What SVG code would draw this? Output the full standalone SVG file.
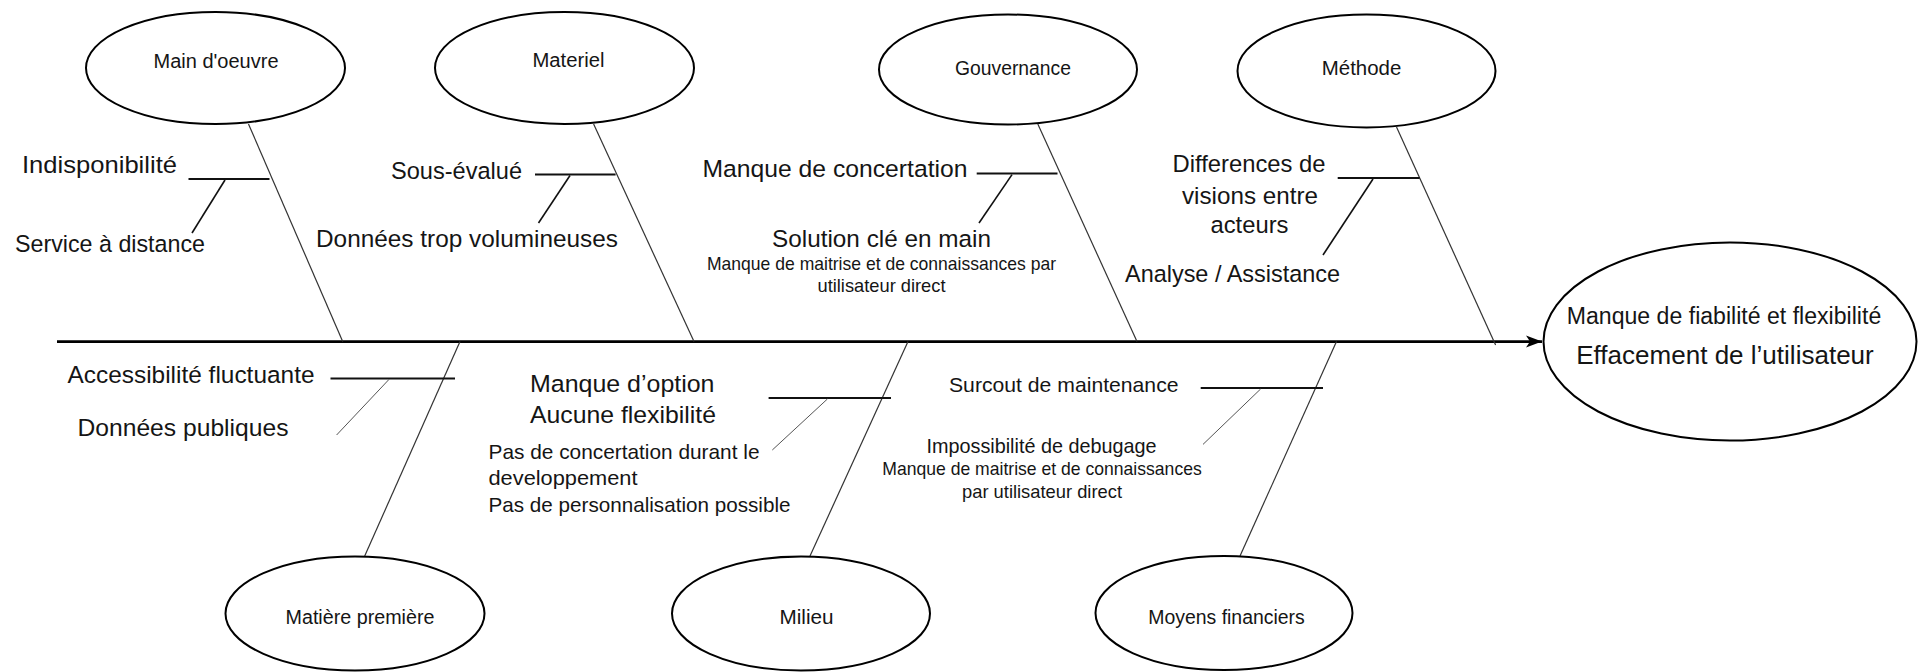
<svg xmlns="http://www.w3.org/2000/svg" width="1919" height="672" viewBox="0 0 1919 672">
<defs>
<style>
text{font-family:"Liberation Sans",Arial,sans-serif;fill:#151515}
.nd ellipse{fill:#fff;stroke:#000;stroke-width:2}
.nl{font-size:19.5px;text-anchor:middle}
.big{font-size:24.5px}
.mid{font-size:20.8px}
.sm{font-size:17.8px}
.c{text-anchor:middle}
.spine{stroke:#000;stroke-width:2.6;fill:none}
.bone{stroke:#333;stroke-width:1.2;fill:none}
.sub{stroke:#111;stroke-width:2;fill:none}
.diag{stroke:#111;stroke-width:1.6;fill:none}
.diag2{stroke:#555;stroke-width:1;fill:none}
</style>
<marker id="arr" markerUnits="userSpaceOnUse" markerWidth="18" markerHeight="14" refX="16" refY="7" orient="auto">
<path d="M0,1 L16,7 L0,13 L4,7 z" fill="#000"/>
</marker>
</defs>
<rect width="1919" height="672" fill="#fff"/>

<g id="connectors">
<line class="spine" x1="57" y1="341.6" x2="1542" y2="341.6" marker-end="url(#arr)"/>
<line class="bone" x1="248.5" y1="124" x2="342.7" y2="341.6"/>
<line class="bone" x1="593.6" y1="124" x2="694" y2="341.6"/>
<line class="bone" x1="1037.8" y1="124" x2="1137" y2="341.6"/>
<line class="bone" x1="1396.5" y1="127" x2="1495.6" y2="345"/>
<line class="bone" x1="460" y1="341.6" x2="364.7" y2="556"/>
<line class="bone" x1="908" y1="341.6" x2="810" y2="556"/>
<line class="bone" x1="1336.5" y1="341.6" x2="1240" y2="556"/>
<line class="sub" x1="188.5" y1="179" x2="269.5" y2="179"/>
<line class="diag" x1="225" y1="180" x2="192" y2="233"/>
<line class="sub" x1="535" y1="174.4" x2="615.6" y2="174.4"/>
<line class="diag" x1="570" y1="175.5" x2="538.5" y2="223"/>
<line class="sub" x1="976.7" y1="173.6" x2="1057.5" y2="173.6" stroke="#333"/>
<line class="diag" x1="1012" y1="174.6" x2="979" y2="223"/>
<line class="sub" x1="1337.7" y1="178" x2="1419.7" y2="178"/>
<line class="diag" x1="1373" y1="179" x2="1323" y2="255"/>
<line class="sub" x1="330.5" y1="378.4" x2="455" y2="378.4"/>
<line class="diag2" x1="389" y1="379.4" x2="336.6" y2="435"/>
<line class="sub" x1="768.6" y1="398" x2="891" y2="398"/>
<line class="diag2" x1="827.4" y1="399" x2="772.3" y2="450"/>
<line class="sub" x1="1200.7" y1="388" x2="1323" y2="388"/>
<line class="diag2" x1="1260.6" y1="389" x2="1203" y2="444.4"/>
</g>

<g id="node-main-oeuvre" class="nd">
<ellipse cx="215.5" cy="68" rx="129.5" ry="56"/>
<text class="nl" x="216" y="68" textLength="125" lengthAdjust="spacingAndGlyphs">Main d'oeuvre</text>
</g>
<g id="node-materiel" class="nd">
<ellipse cx="564.5" cy="68" rx="129.5" ry="56"/>
<text class="nl" x="568.5" y="67" textLength="72" lengthAdjust="spacingAndGlyphs">Materiel</text>
</g>
<g id="node-gouvernance" class="nd">
<ellipse cx="1008" cy="69.5" rx="129" ry="55"/>
<text class="nl" x="1013" y="74.5" textLength="116" lengthAdjust="spacingAndGlyphs">Gouvernance</text>
</g>
<g id="node-methode" class="nd">
<ellipse cx="1366.5" cy="71" rx="129" ry="56.5"/>
<text class="nl" x="1361.5" y="74.5" textLength="79.5" lengthAdjust="spacingAndGlyphs">Méthode</text>
</g>
<g id="node-matiere" class="nd">
<ellipse cx="355" cy="613.5" rx="129.5" ry="57"/>
<text class="nl" x="360" y="624" textLength="149" lengthAdjust="spacingAndGlyphs">Matière première</text>
</g>
<g id="node-milieu" class="nd">
<ellipse cx="801" cy="613.5" rx="129" ry="57"/>
<text class="nl" x="806.5" y="624" textLength="54" lengthAdjust="spacingAndGlyphs">Milieu</text>
</g>
<g id="node-moyens" class="nd">
<ellipse cx="1224" cy="613" rx="128.5" ry="57"/>
<text class="nl" x="1226.5" y="624" textLength="156.5" lengthAdjust="spacingAndGlyphs">Moyens financiers</text>
</g>
<g id="node-effet" class="nd">
<ellipse cx="1730" cy="341.5" rx="186.5" ry="99"/>
<text class="c" x="1724" y="324" font-size="23px" textLength="314.5" lengthAdjust="spacingAndGlyphs">Manque de fiabilité et flexibilité</text>
<text class="c" x="1725" y="364" font-size="26px" textLength="297.5" lengthAdjust="spacingAndGlyphs">Effacement de l’utilisateur</text>
</g>

<g id="causes">
<text class="big" x="22" y="173" textLength="155" lengthAdjust="spacingAndGlyphs">Indisponibilité</text>
<text class="big" x="15" y="252" textLength="190" lengthAdjust="spacingAndGlyphs">Service à distance</text>
<text class="big" x="391" y="179" textLength="131" lengthAdjust="spacingAndGlyphs">Sous-évalué</text>
<text class="big" x="316" y="247" textLength="302" lengthAdjust="spacingAndGlyphs">Données trop volumineuses</text>
<text class="big" x="702.5" y="177" textLength="265" lengthAdjust="spacingAndGlyphs">Manque de concertation</text>
<text class="big c" x="881.5" y="247" textLength="219" lengthAdjust="spacingAndGlyphs">Solution clé en main</text>
<text class="sm c" x="881.5" y="270" textLength="349" lengthAdjust="spacingAndGlyphs">Manque de maitrise et de connaissances par</text>
<text class="sm c" x="881.5" y="292" textLength="128" lengthAdjust="spacingAndGlyphs">utilisateur direct</text>
<text class="big c" x="1249" y="172" textLength="153" lengthAdjust="spacingAndGlyphs">Differences de</text>
<text class="big c" x="1250" y="204" textLength="136" lengthAdjust="spacingAndGlyphs">visions entre</text>
<text class="big c" x="1249.5" y="233" textLength="78" lengthAdjust="spacingAndGlyphs">acteurs</text>
<text class="big c" x="1232.5" y="282" textLength="215" lengthAdjust="spacingAndGlyphs">Analyse / Assistance</text>
<text class="big" x="67.5" y="383" textLength="247" lengthAdjust="spacingAndGlyphs">Accessibilité fluctuante</text>
<text class="big" x="77.5" y="436" textLength="211" lengthAdjust="spacingAndGlyphs">Données publiques</text>
<text class="big" x="530" y="392" textLength="184.5" lengthAdjust="spacingAndGlyphs">Manque d’option</text>
<text class="big" x="530" y="423" textLength="186" lengthAdjust="spacingAndGlyphs">Aucune flexibilité</text>
<text class="mid" x="488.5" y="459" textLength="271" lengthAdjust="spacingAndGlyphs">Pas de concertation durant le</text>
<text class="mid" x="488.5" y="485" textLength="149" lengthAdjust="spacingAndGlyphs">developpement</text>
<text class="mid" x="488.5" y="512" textLength="302" lengthAdjust="spacingAndGlyphs">Pas de personnalisation possible</text>
<text class="mid" x="949" y="391.5" textLength="229.5" lengthAdjust="spacingAndGlyphs">Surcout de maintenance</text>
<text class="mid c" x="1041.5" y="453" textLength="230" lengthAdjust="spacingAndGlyphs">Impossibilité de debugage</text>
<text class="sm c" x="1042" y="475" textLength="319.5" lengthAdjust="spacingAndGlyphs">Manque de maitrise et de connaissances</text>
<text class="sm c" x="1042" y="498" textLength="160" lengthAdjust="spacingAndGlyphs">par utilisateur direct</text>
</g>
</svg>
